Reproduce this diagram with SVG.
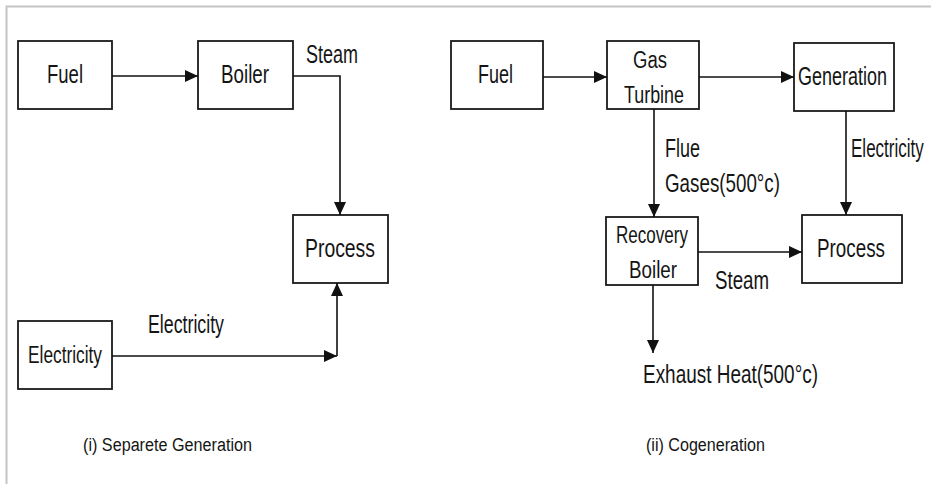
<svg xmlns="http://www.w3.org/2000/svg" width="931" height="484" viewBox="0 0 931 484">
<style>
.box{fill:#fff;stroke:#1a1a1a;stroke-width:1.8}
.t{font-family:"Liberation Sans",Arial,sans-serif;fill:#151515;font-size:26px}
.s{font-size:23px}
.c{font-size:18px}
.ln{fill:none;stroke:#111;stroke-width:1.6}
</style>
<defs>
<marker id="ah" markerUnits="userSpaceOnUse" markerWidth="15" markerHeight="13" refX="13" refY="6.5" orient="auto">
<path d="M0,0.5 L13,6.5 L0,12.5 Z" fill="#111"/>
</marker>
</defs>
<rect width="931" height="484" fill="#fff"/>
<path d="M6.5,484 V6.5 H931" fill="none" stroke="#c4c4c4" stroke-width="2"/>

<g id="fuel1"><rect class="box" x="18" y="41" width="94" height="68"/><text class="t" x="47" y="83" textLength="36" lengthAdjust="spacingAndGlyphs">Fuel</text></g>
<g id="boiler1"><rect class="box" x="198" y="41" width="95" height="68"/><text class="t" x="221" y="83" textLength="48" lengthAdjust="spacingAndGlyphs">Boiler</text></g>
<g id="process1"><rect class="box" x="293" y="215" width="95" height="68"/><text class="t" x="305" y="257" textLength="70" lengthAdjust="spacingAndGlyphs">Process</text></g>
<g id="electricity1"><rect class="box" x="18" y="321" width="94" height="68"/><text class="t s" x="28" y="363" textLength="74" lengthAdjust="spacingAndGlyphs">Electricity</text></g>

<g id="fuel2"><rect class="box" x="451" y="41" width="92" height="68"/><text class="t" x="478" y="83" textLength="35" lengthAdjust="spacingAndGlyphs">Fuel</text></g>
<g id="gasturbine"><rect class="box" x="607" y="41" width="92" height="68"/><text class="t s" x="633" y="68" textLength="34" lengthAdjust="spacingAndGlyphs">Gas</text><text class="t s" x="624" y="103" textLength="60" lengthAdjust="spacingAndGlyphs">Turbine</text></g>
<g id="generation"><rect class="box" x="794" y="43" width="100" height="68"/><text class="t" x="798" y="85" textLength="89" lengthAdjust="spacingAndGlyphs">Generation</text></g>
<g id="recoveryboiler"><rect class="box" x="606" y="217" width="92" height="68"/><text class="t s" x="616" y="243" textLength="72" lengthAdjust="spacingAndGlyphs">Recovery</text><text class="t s" x="629" y="278" textLength="48" lengthAdjust="spacingAndGlyphs">Boiler</text></g>
<g id="process2"><rect class="box" x="802" y="215" width="100" height="68"/><text class="t" x="817" y="257" textLength="68" lengthAdjust="spacingAndGlyphs">Process</text></g>

<g id="connectors">
<path class="ln" d="M112,76 H198" marker-end="url(#ah)"/>
<path class="ln" d="M293,76 H340 V215" marker-end="url(#ah)"/>
<path class="ln" d="M112,356 H337" marker-end="url(#ah)"/>
<path class="ln" d="M337,356 V283" marker-end="url(#ah)"/>
<path class="ln" d="M543,77 H607" marker-end="url(#ah)"/>
<path class="ln" d="M699,77 H794" marker-end="url(#ah)"/>
<path class="ln" d="M654,109 V217" marker-end="url(#ah)"/>
<path class="ln" d="M846,111 V215" marker-end="url(#ah)"/>
<path class="ln" d="M698,252 H802" marker-end="url(#ah)"/>
<path class="ln" d="M653,285 V353" marker-end="url(#ah)"/>
</g>

<g id="labels">
<text class="t" x="306" y="63" textLength="52" lengthAdjust="spacingAndGlyphs">Steam</text>
<text class="t" x="148" y="333" textLength="76" lengthAdjust="spacingAndGlyphs">Electricity</text>
<text class="t c" x="83" y="451" textLength="169" lengthAdjust="spacingAndGlyphs">(i)  Separete Generation</text>
<text class="t" x="665" y="157" textLength="35" lengthAdjust="spacingAndGlyphs">Flue</text>
<text class="t" x="665" y="192" textLength="115" lengthAdjust="spacingAndGlyphs">Gases(500°c)</text>
<text class="t" transform="translate(851,157) scale(0.655,1)">Electricity</text>
<text class="t" x="715" y="289" textLength="54" lengthAdjust="spacingAndGlyphs">Steam</text>
<text class="t" x="643" y="383" textLength="175" lengthAdjust="spacingAndGlyphs">Exhaust Heat(500°c)</text>
<text class="t c" x="646" y="451" textLength="119" lengthAdjust="spacingAndGlyphs">(ii)  Cogeneration</text>
</g>
</svg>
